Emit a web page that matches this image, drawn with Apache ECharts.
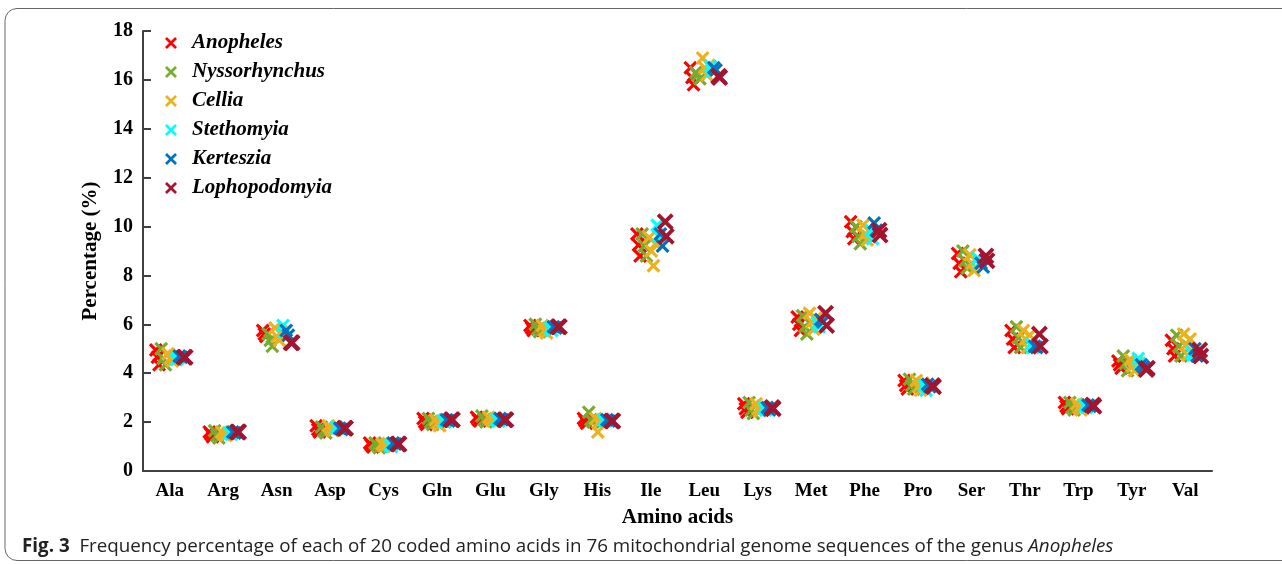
<!DOCTYPE html>
<html>
<head>
<meta charset="utf-8">
<title>Amino acid frequency</title>
<script src="https://cdn.jsdelivr.net/npm/echarts@6/dist/echarts.min.js"></script>
<style>
  html, body { margin: 0; padding: 0; background: #fff; }
  #chart { width: 1282px; height: 565px; }
</style>
</head>
<body>
<div id="chart"></div>
<script>
// 氨基酸（横轴类别）
const aminoAcids = ['Ala', 'Arg', 'Asn', 'Asp', 'Cys', 'Gln', 'Glu', 'Gly', 'His', 'Ile',
  'Leu', 'Lys', 'Met', 'Phe', 'Pro', 'Ser', 'Thr', 'Trp', 'Tyr', 'Val'];
const yTicks = [0, 18, 2]; // min, max, interval

const genera = ['Anopheles', 'Nyssorhynchus', 'Cellia', 'Stethomyia', 'Kerteszia', 'Lophopodomyia'];
const generaColors = ['#ff0000', '#77ac30', '#edb120', '#00ffff', '#0072bd', '#a2142f'];

// where each plotted genome sits inside its amino acid band (0..1)
const anophelesPos = [0.24, 0.27, 0.30];
const nyssorhynchusPos = [0.34, 0.38, 0.42];
const celliaPos = [0.47, 0.51, 0.55, 0.59];
const stethomyiaPos = [0.62, 0.65];
const kertesziaPos = [0.68, 0.72];
const lophopodomyiaPos = [0.77, 0.79];

// percentage values, one row per amino acid, one value per genome
const anophelesVals = [
  [4.95, 4.65, 4.35], [1.6, 1.5, 1.4], [5.75, 5.6, 5.5], [1.85, 1.7, 1.6], [1.15, 1.05, 0.98],
  [2.15, 2.0, 1.9], [2.2, 2.1, 2.05], [5.95, 5.85, 5.75], [2.15, 2.05, 1.95], [9.7, 9.25, 8.8],
  [16.5, 16.1, 15.8], [2.75, 2.55, 2.4], [6.3, 6.0, 5.75], [10.2, 9.8, 9.5], [3.7, 3.5, 3.35],
  [8.9, 8.5, 8.15], [5.75, 5.4, 5.05], [2.8, 2.65, 2.55], [4.5, 4.35, 4.2], [5.35, 5.0, 4.7]
];
const nyssorhynchusVals = [
  [5.0, 4.6, 4.35], [1.65, 1.45, 1.35], [5.6, 5.35, 5.1], [1.8, 1.65, 1.55], [1.15, 1.05, 0.95],
  [2.15, 2.0, 1.9], [2.25, 2.1, 2.0], [6.0, 5.8, 5.7], [2.4, 2.1, 2.0], [9.7, 9.2, 8.8],
  [16.3, 16.2, 16.05], [2.8, 2.5, 2.35], [6.35, 5.9, 5.6], [10.0, 9.6, 9.3], [3.75, 3.5, 3.35],
  [9.0, 8.6, 8.3], [5.9, 5.45, 5.05], [2.8, 2.6, 2.5], [4.7, 4.4, 4.1], [5.55, 5.1, 4.7]
];
const celliaVals = [
  [4.8, 4.6, 4.5, 4.7], [1.6, 1.5, 1.45, 1.55], [5.85, 5.5, 5.35, 5.7], [1.85, 1.75, 1.65, 1.7],
  [1.1, 1.0, 1.05, 1.12], [2.1, 1.95, 1.85, 2.05], [2.2, 2.1, 2.05, 2.15], [5.95, 5.75, 5.65, 5.85],
  [2.15, 1.6, 2.05, 2.1], [9.55, 9.0, 8.4, 9.3], [16.9, 16.5, 16.2, 16.6], [2.75, 2.55, 2.45, 2.65],
  [6.45, 6.1, 5.8, 6.25], [10.05, 9.7, 9.45, 9.85], [3.7, 3.45, 3.3, 3.6], [8.85, 8.5, 8.2, 8.65],
  [5.75, 5.4, 5.05, 5.55], [2.75, 2.6, 2.5, 2.7], [4.55, 4.3, 4.1, 4.45], [5.6, 5.15, 4.75, 5.4]
];
const stethomyiaVals = [
  [4.55, 4.6], [1.55, 1.5], [5.95, 5.7], [1.8, 1.75], [1.05, 1.0],
  [2.05, 2.0], [2.1, 2.05], [5.85, 5.75], [2.1, 2.05], [10.05, 9.6],
  [16.55, 16.35], [2.6, 2.5], [6.05, 5.9], [9.85, 9.5], [3.5, 3.3],
  [8.7, 8.5], [5.2, 5.05], [2.7, 2.6], [4.6, 4.4], [4.85, 4.75]
];
const kertesziaVals = [
  [4.7, 4.65], [1.6, 1.55], [5.75, 5.55], [1.75, 1.7], [1.15, 1.1],
  [2.1, 2.05], [2.15, 2.1], [5.9, 5.85], [2.1, 2.05], [9.7, 9.2],
  [16.5, 16.4], [2.6, 2.5], [6.2, 6.1], [10.15, 9.85], [3.55, 3.45],
  [8.5, 8.35], [5.1, 5.05], [2.7, 2.65], [4.35, 4.25], [5.0, 4.7]
];
const lophopodomyiaVals = [
  [4.65, 4.65], [1.6, 1.6], [5.25, 5.25], [1.75, 1.75], [1.1, 1.1],
  [2.1, 2.1], [2.1, 2.1], [5.9, 5.9], [2.05, 2.05], [10.2, 9.6],
  [16.15, 16.1], [2.6, 2.55], [6.45, 5.95], [9.85, 9.65], [3.5, 3.45],
  [8.8, 8.6], [5.6, 5.1], [2.7, 2.65], [4.15, 4.2], [4.95, 4.7]
];

const generaPos = [anophelesPos, nyssorhynchusPos, celliaPos, stethomyiaPos, kertesziaPos, lophopodomyiaPos];
const generaVals = [anophelesVals, nyssorhynchusVals, celliaVals, stethomyiaVals, kertesziaVals, lophopodomyiaVals];

// MATLAB 风格的 "x" 标记（填充的叉形）
const crossPath = 'path://M0,1.6L1.6,0L5,3.4L8.4,0L10,1.6L6.6,5L10,8.4L8.4,10L5,6.6L1.6,10L0,8.4L3.4,5Z';
const serif = '"Liberation Serif", "Times New Roman", serif';
const sans = '"Open Sans", "Noto Sans", sans-serif';
const axisColor = '#404040';

const chart = echarts.init(document.getElementById('chart'), null, { renderer: 'canvas' });

const series = genera.map((name, g) => {
  const data = [];
  generaVals[g].forEach((row, i) => {
    row.forEach((v, j) => {
      data.push([i + generaPos[g][j], v]);
    });
  });
  return {
    name,
    type: 'scatter',
    xAxisIndex: 1,
    yAxisIndex: 0,
    symbol: crossPath,
    symbolSize: g === 5 ? 17 : 14,
    itemStyle: { color: generaColors[g], opacity: 1 },
    emphasis: { disabled: true },
    data
  };
});

chart.setOption({
  animation: false,
  backgroundColor: '#fff',
  grid: { left: 143, right: 70, top: 31, bottom: 94 },
  legend: {
    orient: 'vertical',
    left: 160,
    top: 27,
    itemWidth: 22,
    itemHeight: 12,
    itemGap: 7,
    icon: crossPath,
    data: genera,
    textStyle: {
      fontFamily: serif,
      fontSize: 21,
      fontWeight: 'bold',
      fontStyle: 'italic',
      color: '#000',
      lineHeight: 22,
      padding: [0, 0, 0, 5]
    }
  },
  xAxis: [
    {
      type: 'category',
      data: aminoAcids,
      boundaryGap: true,
      name: 'Amino acids',
      nameLocation: 'middle',
      nameGap: 36,
      nameTextStyle: { fontFamily: serif, fontSize: 21, fontWeight: 'bold', color: '#000' },
      axisLine: { lineStyle: { color: axisColor, width: 2 } },
      axisTick: { inside: true, length: 8, lineStyle: { color: axisColor, width: 2 } },
      axisLabel: { fontFamily: serif, fontSize: 19, fontWeight: 'bold', color: '#000', margin: 11 },
      splitLine: { show: false }
    },
    {
      type: 'value',
      min: 0,
      max: 20,
      show: false
    }
  ],
  yAxis: {
    type: 'value',
    min: yTicks[0],
    max: yTicks[1],
    interval: yTicks[2],
    name: 'Percentage (%)',
    nameLocation: 'middle',
    nameGap: 42,
    nameTextStyle: { fontFamily: serif, fontSize: 21, fontWeight: 'bold', color: '#000' },
    axisLine: { show: true, lineStyle: { color: axisColor, width: 2 } },
    axisTick: { show: true, inside: true, length: 8, lineStyle: { color: axisColor, width: 2 } },
    axisLabel: { fontFamily: serif, fontSize: 20, fontWeight: 'bold', color: '#000', margin: 10 },
    splitLine: { show: false }
  },
  graphic: [
    {
      type: 'rect',
      shape: { x: 5, y: 8.5, width: 1300, height: 552, r: 12 },
      style: { fill: 'none', stroke: '#666', lineWidth: 1 },
      silent: true
    },
    {
      type: 'text',
      left: 22,
      top: 537,
      style: {
        text: '{b|Fig. 3}  Frequency percentage of each of 20 coded amino acids in 76 mitochondrial genome sequences of the genus {i|Anopheles}',
        fontFamily: sans,
        fontSize: 18.8,
        fill: '#222',
        rich: {
          b: { fontFamily: sans, fontSize: 18.8, fontWeight: 'bold', fill: '#222' },
          i: { fontFamily: sans, fontSize: 18.8, fontStyle: 'italic', fill: '#222' }
        }
      },
      silent: true
    }
  ],
  series
});
</script>
</body>
</html>
